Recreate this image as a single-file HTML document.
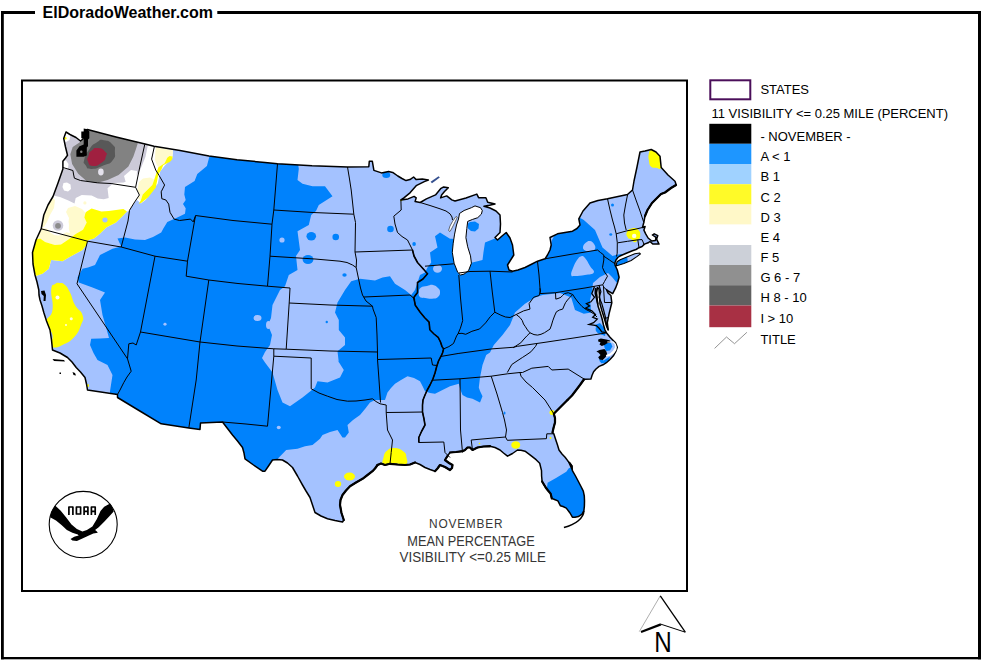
<!DOCTYPE html>
<html><head><meta charset="utf-8"><title>November Mean Percentage Visibility</title>
<style>html,body{margin:0;padding:0;background:#fff;}body{width:981px;height:660px;overflow:hidden;position:relative;font-family:"Liberation Sans",sans-serif;}svg{position:absolute;left:0;top:0;}text{font-family:"Liberation Sans",sans-serif;}</style></head><body>
<svg width="981" height="660" viewBox="0 0 981 660">
<rect width="981" height="660" fill="#fff"/>
<g fill="#000">
<rect x="1" y="11" width="34" height="3"/>
<rect x="217.3" y="11" width="763.7" height="3"/>
<rect x="1" y="11" width="2.8" height="648.3"/>
<rect x="978" y="11" width="3" height="648.3"/>
<rect x="1" y="657" width="980" height="2.3"/>
</g>
<text x="42.6" y="17.7" font-size="16" font-weight="bold" fill="#000">ElDoradoWeather.com</text>
<rect x="22" y="80.5" width="665" height="510.5" fill="#fff" stroke="#000" stroke-width="2"/>
<defs><clipPath id="us"><path d="M66.0,132.0 L70.0,134.5 L76.0,137.5 L80.5,141.0 L83.0,139.0 L84.0,133.0 L86.0,130.0 L87.4,129.5 L116.0,137.0 L145.0,144.0 L154.0,146.3 L180.0,150.6 L209.0,156.0 L237.0,159.7 L265.0,162.5 L277.5,163.8 L312.0,165.8 L347.5,167.0 L368.8,166.8 L369.3,161.2 L372.3,161.2 L373.9,170.4 L381.5,172.9 L388.6,171.4 L392.7,172.4 L397.8,176.0 L402.0,178.5 L406.0,180.6 L410.0,179.6 L413.6,177.0 L416.2,179.6 L422.3,179.1 L428.4,180.1 L424.3,181.6 L416.2,185.7 L410.0,192.8 L403.9,197.9 L400.9,199.9 L408.0,198.9 L414.1,196.4 L416.2,197.9 L415.1,201.5 L420.2,202.5 L426.4,198.9 L435.5,194.9 L440.6,188.7 L443.7,186.9 L448.3,187.7 L444.5,191.5 L441.6,194.9 L440.6,197.9 L446.7,195.9 L451.8,199.9 L455.0,201.0 L466.0,198.0 L476.8,194.1 L478.6,197.7 L485.9,197.7 L487.7,202.3 L495.0,204.1 L489.5,205.3 L484.0,206.3 L490.0,208.0 L496.0,211.0 L500.0,215.0 L500.5,224.0 L500.0,232.5 L495.0,237.5 L497.5,240.0 L502.0,236.0 L506.2,232.5 L510.0,238.0 L512.5,245.0 L513.8,255.0 L507.5,265.0 L509.0,270.0 L512.5,271.2 L518.0,270.0 L525.0,267.5 L531.0,264.5 L537.5,261.2 L545.0,258.8 L547.5,255.0 L550.0,250.0 L551.2,245.0 L550.0,237.5 L557.5,233.8 L565.0,232.5 L572.5,231.2 L577.0,228.5 L580.0,225.0 L578.8,218.8 L583.0,211.0 L590.0,203.0 L598.0,200.5 L607.5,198.8 L627.5,194.5 L632.5,190.0 L634.0,181.0 L637.0,167.0 L640.0,152.0 L645.0,151.0 L651.2,149.5 L656.0,152.0 L660.0,156.2 L661.2,167.5 L668.0,175.0 L675.0,181.2 L676.2,185.0 L671.0,188.0 L665.0,192.5 L661.0,194.0 L657.5,197.5 L652.0,203.0 L647.5,210.0 L645.0,216.0 L643.8,222.5 L642.5,227.5 L645.1,226.5 L643.9,230.1 L645.7,233.8 L648.1,238.0 L651.8,241.0 L655.4,240.4 L656.0,237.4 L652.4,235.0 L654.2,233.8 L657.8,235.6 L656.6,239.2 L659.0,244.1 L653.0,244.1 L649.9,241.5 L648.1,242.8 L644.5,244.1 L642.1,246.5 L639.0,247.7 L636.0,249.5 L632.4,250.7 L626.3,253.2 L620.0,256.0 L617.8,257.5 L616.0,260.0 L615.0,262.5 L615.0,265.0 L617.3,270.0 L619.1,277.3 L617.5,283.0 L615.5,288.2 L612.7,293.6 L609.0,291.5 L606.4,289.5 L608.0,293.0 L610.9,295.5 L611.8,302.7 L610.5,308.0 L609.1,313.6 L607.3,322.7 L608.2,330.0 L606.5,326.0 L604.5,319.0 L602.0,311.0 L600.0,304.0 L599.5,296.0 L599.0,289.0 L597.5,287.5 L596.5,293.0 L597.0,300.0 L598.0,306.0 L600.0,312.0 L602.0,318.5 L603.5,325.0 L605.0,330.0 L606.4,332.7 L610.0,337.3 L615.5,342.7 L617.3,347.3 L615.8,351.5 L613.6,355.5 L610.0,359.5 L606.4,362.7 L603.0,364.8 L599.1,366.4 L596.0,369.0 L593.6,371.8 L592.0,375.5 L590.9,379.1 L584.5,379.3 L580.0,385.0 L576.2,390.0 L572.0,395.5 L567.5,400.0 L560.0,407.5 L553.8,413.8 L555.0,418.0 L555.0,422.5 L553.5,428.0 L552.5,432.5 L553.8,433.8 L555.5,439.0 L557.5,445.0 L559.0,450.0 L562.0,454.0 L565.1,457.3 L568.8,462.1 L571.8,465.7 L572.4,470.6 L575.5,476.0 L578.4,481.5 L581.0,486.5 L583.3,491.2 L584.3,496.0 L584.5,500.9 L584.4,506.0 L583.9,510.6 L582.1,514.2 L578.4,516.6 L575.0,517.2 L572.4,517.2 L570.0,513.0 L566.3,508.1 L563.0,506.5 L560.3,505.7 L557.9,500.9 L554.5,499.5 L551.8,498.4 L550.6,493.6 L548.0,490.5 L545.7,487.5 L542.1,481.5 L541.6,476.0 L541.5,470.6 L539.7,463.3 L536.1,459.7 L530.0,454.8 L525.0,451.2 L521.0,450.2 L517.5,450.0 L512.5,453.5 L507.5,456.2 L503.5,453.0 L500.0,450.0 L495.0,447.5 L490.0,446.2 L483.5,446.5 L477.5,447.5 L472.5,450.0 L470.0,447.5 L467.5,447.5 L465.0,450.0 L462.5,451.2 L456.0,452.0 L450.0,452.5 L447.5,456.0 L445.0,460.0 L449.0,463.0 L452.5,465.0 L452.0,468.0 L450.0,470.0 L445.0,467.0 L440.0,465.0 L437.5,468.5 L435.0,471.2 L430.0,469.5 L425.0,467.5 L420.0,464.5 L415.0,462.5 L410.0,464.5 L405.0,465.0 L397.5,464.5 L390.0,463.8 L385.0,465.0 L381.0,463.5 L377.5,465.0 L375.0,468.5 L372.5,471.2 L367.5,475.0 L362.5,478.8 L356.0,482.5 L350.0,486.2 L346.0,490.5 L342.5,495.0 L340.5,500.0 L340.0,505.0 L341.5,513.0 L343.8,520.0 L342.5,522.0 L335.0,520.5 L327.5,518.8 L321.0,516.0 L315.0,512.5 L312.5,505.0 L310.0,497.5 L306.0,491.0 L302.5,485.0 L297.5,476.0 L292.5,467.5 L287.5,463.0 L282.5,460.0 L277.5,459.5 L272.5,460.0 L268.5,466.0 L265.0,471.2 L262.5,471.2 L253.5,465.0 L245.0,458.8 L244.0,453.0 L242.5,447.5 L237.5,441.0 L232.5,435.0 L227.5,428.5 L222.5,422.0 L200.5,423.0 L200.0,429.5 L188.8,428.0 L161.2,423.8 L139.0,410.5 L117.5,397.5 L117.5,394.5 L87.5,390.0 L86.5,384.0 L85.0,377.5 L80.5,372.0 L76.2,367.5 L72.0,362.0 L67.5,357.5 L60.0,353.0 L52.5,350.0 L51.5,340.0 L50.0,330.0 L46.5,321.0 L43.8,312.5 L42.0,306.0 L40.0,300.0 L39.0,295.0 L38.8,290.0 L37.0,282.0 L35.0,275.0 L33.0,264.0 L32.5,252.5 L36.0,240.0 L41.2,228.8 L43.8,215.0 L48.0,205.0 L53.0,196.5 L58.0,183.0 L62.9,169.0 L62.9,161.3 L65.5,158.0 L67.5,155.2 L65.5,147.0 L63.7,138.4Z M617.0,261.8 L620.2,259.8 L627.5,256.8 L634.8,253.8 L639.6,253.0 L640.4,254.0 L637.2,256.4 L631.2,260.4 L623.9,263.5 L616.0,266.0Z"/></clipPath></defs>
<g clip-path="url(#us)">
<rect x="20" y="100" width="680" height="450" fill="#a4c2ff"/>
<path d="M210.5,150.0 L209.6,155.7 L206.9,165.9 L197.3,174.1 L194.6,180.9 L185.0,187.1 L184.3,194.6 L185.7,200.0 L183.0,204.1 L185.7,208.2 L185.0,213.7 L176.8,217.8 L167.3,221.9 L163.2,228.7 L161.2,232.5 L153.0,237.0 L145.0,240.0 L135.0,239.5 L125.0,237.5 L117.5,238.5 L121.2,246.5 L112.5,248.8 L100.0,255.0 L95.0,265.0 L88.0,267.5 L82.5,268.8 L77.5,277.5 L78.8,282.5 L92.5,287.5 L105.0,292.5 L100.0,300.0 L102.5,315.0 L107.5,332.5 L109.0,338.0 L100.0,338.5 L91.2,338.8 L90.0,345.0 L93.5,353.0 L97.5,360.0 L107.5,365.0 L112.5,375.0 L110.0,391.2 L110.0,400.0 L160.0,430.0 L200.0,435.0 L222.0,425.0 L240.0,455.0 L262.0,475.0 L283.8,452.5 L286.2,450.0 L297.5,448.8 L305.0,446.2 L312.5,445.0 L320.0,438.8 L322.5,435.0 L330.0,432.0 L337.5,430.0 L342.5,437.5 L345.0,437.5 L348.8,432.5 L347.5,425.0 L353.0,420.0 L360.0,415.0 L365.0,409.0 L370.0,402.5 L375.0,400.0 L385.0,400.0 L387.5,392.5 L391.0,388.0 L395.0,383.8 L401.0,380.0 L407.5,376.2 L414.0,378.0 L420.0,381.2 L422.5,386.0 L425.0,391.2 L430.0,393.0 L435.0,393.8 L442.5,390.0 L450.0,386.2 L458.8,383.8 L460.5,390.0 L462.5,395.0 L467.0,397.5 L472.5,398.8 L480.0,402.5 L482.5,396.2 L480.0,391.0 L478.8,387.5 L480.0,377.5 L482.5,365.0 L486.2,355.0 L490.0,352.5 L493.8,345.0 L502.5,335.0 L510.0,325.0 L515.0,312.5 L525.0,303.8 L535.0,297.5 L542.5,295.0 L560.0,293.0 L571.2,297.5 L575.0,310.0 L583.8,313.8 L591.2,312.5 L590.0,300.0 L592.0,292.0 L593.0,283.0 L600.0,277.0 L608.0,273.0 L612.0,277.0 L617.0,283.0 L622.0,280.0 L620.0,268.0 L628.0,263.0 L627.0,256.0 L621.0,254.0 L616.0,255.0 L612.5,256.0 L602.5,247.5 L595.0,230.0 L583.8,220.0 L575.0,215.0 L560.0,225.0 L552.0,240.0 L548.0,255.0 L530.0,262.0 L512.0,268.0 L520.0,250.0 L515.0,228.0 L497.5,237.5 L485.0,242.5 L483.5,252.0 L482.5,260.0 L472.5,262.5 L466.0,262.0 L462.0,250.0 L460.0,240.0 L452.0,238.8 L450.0,238.8 L440.0,232.5 L435.0,236.2 L437.5,247.5 L430.0,252.5 L431.2,262.5 L427.5,267.5 L425.0,272.5 L420.0,275.0 L417.5,282.5 L415.0,290.0 L411.2,295.0 L405.0,290.0 L395.0,283.8 L390.0,276.2 L382.5,277.5 L375.0,280.5 L360.0,278.8 L351.2,281.2 L345.0,290.0 L337.5,302.5 L335.0,312.5 L338.8,320.0 L338.8,330.0 L345.0,337.5 L345.0,345.0 L337.5,351.2 L338.8,362.5 L337.5,360.0 L343.8,370.0 L340.0,377.5 L327.5,382.5 L317.5,381.2 L315.0,387.5 L302.5,397.5 L290.0,406.2 L282.5,402.5 L277.5,390.0 L272.5,372.5 L265.0,362.5 L262.0,358.0 L265.0,352.0 L270.0,345.0 L272.0,335.0 L268.0,325.0 L271.0,318.0 L272.5,305.0 L280.0,290.0 L285.0,286.2 L288.8,275.0 L297.5,270.0 L296.0,256.0 L300.0,250.0 L297.5,231.2 L308.8,225.0 L311.2,215.0 L316.0,211.0 L318.8,205.0 L332.5,196.2 L325.0,186.2 L312.5,186.2 L302.5,183.8 L297.5,180.0 L298.8,168.8 L297.5,160.0Z" fill="#0082fc"/>
<path d="M547.6,482.7 L556.0,478.0 L566.3,471.8 L568.8,468.2 L575.0,466.0 L590.0,480.0 L590.0,520.0 L565.0,522.0 L546.0,495.0Z" fill="#0082fc"/>
<path d="M467.5,224.0 L470.0,222.0 L475.0,221.5 L479.0,224.0 L478.5,228.5 L475.0,231.5 L471.0,231.0 L468.0,228.5Z" fill="#0082fc"/>
<path d="M595.0,325.0 L600.0,323.0 L606.0,330.0 L605.0,336.0 L598.0,333.0Z" fill="#0082fc"/>
<path d="M603.6,343.2 L610.9,342.7 L612.3,346.4 L610.0,350.5 L605.9,350.9 L604.5,347.3Z" fill="#0082fc"/>
<path d="M599.5,358.2 L603.6,360.5 L610.0,356.4 L609.1,360.0 L605.9,362.7 L601.4,363.2 L599.5,360.9Z" fill="#0082fc"/>
<path d="M595.5,328.2 L599.5,327.3 L603.6,329.1 L605.5,332.7 L602.7,334.5 L598.2,333.6 L595.9,330.9Z" fill="#0082fc"/>
<ellipse cx="311.25" cy="236.25" rx="4.8" ry="4.2" fill="#0082fc"/>
<ellipse cx="335.75" cy="237" rx="3.3" ry="3.3" fill="#0082fc"/>
<ellipse cx="308" cy="259.5" rx="5.4" ry="4.6" fill="#0082fc"/>
<ellipse cx="386.25" cy="175" rx="4" ry="3" fill="#0082fc"/>
<ellipse cx="390.5" cy="229" rx="3.3" ry="3.3" fill="#0082fc"/>
<ellipse cx="344.5" cy="275" rx="2.2" ry="1.8" fill="#0082fc"/>
<ellipse cx="326.75" cy="322" rx="1.2" ry="1.2" fill="#0082fc"/>
<ellipse cx="612.5" cy="205" rx="1.5" ry="1.5" fill="#0082fc"/>
<ellipse cx="610.75" cy="234.5" rx="1.5" ry="1.2" fill="#0082fc"/>
<ellipse cx="414.1" cy="244.1" rx="1.8" ry="2" fill="#0082fc"/>
<ellipse cx="504.5" cy="413" rx="1" ry="1.5" fill="#0082fc"/>
<path d="M418.8,292.0 C419.0,289.8 419.1,288.9 421.0,287.5 C422.9,286.1 424.2,286.6 427.0,286.0 C429.8,285.4 430.4,284.5 433.0,285.0 C435.6,285.5 436.4,286.4 438.0,288.0 C439.6,289.6 440.0,289.9 440.0,292.0 C440.0,294.1 439.9,295.4 438.0,297.0 C436.1,298.6 435.0,298.5 432.0,298.8 C429.0,299.0 427.8,298.4 425.0,298.0 C422.2,297.6 421.5,298.4 420.0,297.0 C418.5,295.6 418.5,294.2 418.8,292.0Z" fill="#a4c2ff"/>
<path d="M583.0,247.0 C583.2,245.1 584.4,243.9 586.0,242.5 C587.6,241.1 588.1,240.7 590.0,241.0 C591.9,241.3 592.8,242.1 594.0,244.0 C595.2,245.9 595.9,247.4 595.0,249.0 C594.1,250.6 592.3,250.7 590.0,251.0 C587.7,251.3 586.6,251.4 585.0,250.5 C583.4,249.6 582.8,248.9 583.0,247.0Z" fill="#a4c2ff"/>
<path d="M581.2,256.2 C583.1,255.8 583.0,255.7 585.0,258.0 C587.0,260.3 588.0,262.6 590.0,266.0 C592.0,269.4 594.9,270.4 593.8,272.5 C592.6,274.6 589.4,274.2 585.0,275.0 C580.6,275.8 578.2,276.0 575.0,276.0 C571.8,276.0 571.7,276.9 571.2,275.0 C570.8,273.1 571.7,271.5 573.0,268.0 C574.3,264.5 575.1,262.7 577.0,260.0 C578.9,257.3 579.4,256.7 581.2,256.2Z" fill="#a4c2ff"/>
<ellipse cx="282" cy="240" rx="2.6" ry="2.6" fill="#a4c2ff"/>
<ellipse cx="437.5" cy="268.75" rx="4.5" ry="4" fill="#a4c2ff"/>
<ellipse cx="165" cy="324.25" rx="1.6" ry="1.4" fill="#a4c2ff"/>
<ellipse cx="257.5" cy="318" rx="4" ry="3" fill="#a4c2ff"/>
<ellipse cx="278.75" cy="427.5" rx="2" ry="1.7" fill="#a4c2ff"/>
<ellipse cx="268.5" cy="325" rx="2.5" ry="4" fill="#a4c2ff"/>
<path d="M60.0,125.0 L173.0,150.0 L172.4,157.9 L165.1,165.3 L160.2,171.4 L157.8,183.6 L151.6,192.2 L145.5,200.0 L141.0,203.5 L137.0,200.0 L133.0,205.0 L128.3,211.5 L127.0,211.5 L122.2,216.4 L116.0,222.5 L106.3,227.4 L100.2,233.5 L94.0,238.4 L88.0,240.2 L86.7,244.5 L82.5,250.0 L68.8,257.5 L62.5,261.2 L51.2,260.0 L48.8,268.8 L42.5,273.8 L35.0,276.2 L25.0,262.0 L30.0,240.0 L38.0,215.0 L50.0,190.0 L58.0,170.0 L58.0,140.0Z" fill="#ffffff"/>
<path d="M66.0,125.0 L148.0,140.0 L148.0,144.5 L145.5,156.7 L140.6,168.9 L134.5,178.7 L123.5,182.4 L113.7,183.0 L107.5,188.2 L108.7,198.0 L103.8,199.2 L97.7,198.6 L91.6,195.6 L81.8,195.0 L75.7,198.0 L74.5,203.5 L68.4,200.5 L60.0,197.0 L53.0,195.6 L50.0,190.0 L60.0,165.0 L60.0,140.0Z" fill="#cccad8"/>
<path d="M63.0,130.0 L70.5,134.5 L69.5,140.0 L66.0,142.0 L63.0,141.0Z" fill="#ffffff"/>
<path d="M62.0,160.0 L66.0,160.5 L68.5,164.0 L68.0,169.0 L62.0,169.0Z" fill="#ffffff"/>
<path d="M63.5,183.0 L67.0,182.5 L70.5,184.5 L71.0,189.0 L68.0,191.5 L64.0,190.5 L62.5,187.0Z" fill="#ffffff"/>
<path d="M124.0,176.0 L131.0,170.0 L137.0,171.0 L136.0,184.0 L126.0,183.0Z" fill="#ffffff"/>
<path d="M156.0,147.0 L173.0,150.5 L172.5,156.0 L168.0,157.5 L164.6,163.2 L158.4,167.3 L156.8,165.0 L155.0,160.0 L155.3,152.0Z" fill="#fffacd"/>
<path d="M137.3,190.0 L139.0,182.0 L143.0,178.5 L150.0,177.5 L154.3,179.6 L152.3,185.0 L142.7,194.6 L140.7,200.7 L138.0,198.0 L139.9,195.0Z" fill="#fffacd"/>
<path d="M52.0,197.0 L55.0,200.0 L54.0,208.0 L50.0,215.0 L47.0,222.0 L44.0,227.0 L40.0,227.0 L42.0,211.5Z" fill="#fffacd"/>
<path d="M68.0,208.0 L75.0,206.0 L82.0,209.0 L85.5,212.7 L84.3,217.6 L86.7,222.5 L83.0,229.8 L75.7,234.1 L70.0,233.0 L68.0,226.0 L69.0,218.0 L66.0,212.0Z" fill="#fffacd"/>
<path d="M40.2,227.4 L75.7,234.1 L68.4,239.6 L61.0,244.5 L54.9,245.1 L45.1,242.0 L40.2,238.4 L36.0,237.0Z" fill="#fffacd"/>
<path d="M85.5,212.7 L84.3,217.6 L86.7,222.5 L83.0,229.8 L75.7,234.1 L68.4,239.6 L61.0,244.5 L54.9,245.1 L45.1,242.0 L40.2,238.4 L30.0,240.0 L25.0,262.0 L35.0,276.2 L42.5,273.8 L48.8,268.8 L51.2,260.0 L62.5,261.2 L68.8,257.5 L82.5,250.0 L86.7,244.5 L88.0,240.2 L94.0,238.4 L100.2,233.5 L106.3,227.4 L116.0,222.5 L122.2,216.4 L127.0,211.5 L123.4,209.0 L108.7,210.9 L101.4,211.5 L91.6,208.4 L86.7,211.5Z" fill="#ffff00"/>
<path d="M172.7,156.6 L172.1,159.5 L170.0,161.8 L163.2,165.2 L161.2,170.0 L158.4,174.1 L157.1,180.9 L155.7,187.7 L148.2,197.3 L141.4,202.8 L138.6,204.1 L140.7,200.7 L142.7,194.6 L152.3,185.0 L154.3,179.6 L156.4,172.7 L158.4,167.3 L164.6,163.2 L167.3,157.7 L169.5,156.0Z" fill="#ffff00"/>
<path d="M87.4,127.0 L138.2,140.0 L138.2,142.0 L136.3,148.1 L133.3,156.7 L128.4,166.5 L118.6,175.0 L107.6,179.9 L96.6,183.0 L86.8,181.2 L78.2,173.8 L72.1,164.0 L70.3,154.3 L72.7,146.9 L79.5,142.6 L83.0,138.0Z" fill="#828282"/>
<path d="M103.9,140.2 C109.2,140.8 108.8,140.6 112.5,144.5 C116.2,148.4 114.9,146.5 114.9,151.8 C114.9,157.1 116.2,155.9 112.5,160.4 C108.8,164.9 110.8,162.5 103.9,165.3 C97.0,168.1 97.8,168.9 91.7,168.9 C85.6,168.9 88.0,168.6 85.6,165.3 C83.2,162.0 83.2,164.4 84.4,159.1 C85.6,153.8 85.2,154.9 89.3,149.4 C93.4,143.9 91.7,145.7 96.6,142.6 C101.5,139.5 98.6,139.6 103.9,140.2Z" fill="#585858"/>
<path d="M97.8,148.1 C102.3,148.5 102.5,148.9 105.2,151.8 C107.9,154.7 107.0,153.0 105.8,156.7 C104.6,160.4 105.8,159.7 101.5,162.8 C97.2,165.9 97.4,166.3 92.9,165.9 C88.4,165.5 89.4,165.1 88.0,161.6 C86.6,158.1 87.4,159.2 88.6,155.5 C89.8,151.8 88.6,153.1 91.7,150.6 C94.8,148.1 93.3,147.7 97.8,148.1Z" fill="#a02040"/>
<ellipse cx="100.9" cy="172" rx="2.8" ry="3.4" fill="#e4e2ec"/>
<ellipse cx="105" cy="220" rx="2.6" ry="2.4" fill="#a4c2ff"/>
<ellipse cx="58" cy="225.5" rx="11" ry="10" fill="#ffffff"/>
<ellipse cx="58" cy="225.5" rx="5.3" ry="5.3" fill="#cccad8"/>
<ellipse cx="58" cy="225.8" rx="2.9" ry="2.9" fill="#8c8c8c"/>
<ellipse cx="84.9" cy="202.9" rx="1.6" ry="1.6" fill="#fffacd"/>
<ellipse cx="65.4" cy="138.3" rx="1.1" ry="1.3" fill="#ffff00"/>
<path d="M60.0,283.0 C62.7,283.3 62.3,282.5 65.0,285.0 C67.7,287.5 67.3,287.2 70.0,292.5 C72.7,297.8 71.7,299.0 75.0,305.0 C78.3,311.0 80.9,309.7 82.5,315.0 C84.1,320.3 83.3,319.0 81.0,325.0 C78.7,331.0 78.7,332.2 73.8,337.5 C68.8,342.8 67.8,342.3 62.5,345.0 C57.2,347.7 57.1,347.5 53.8,347.5 C50.4,347.5 50.3,348.3 50.0,345.0 C49.7,341.7 53.5,341.0 52.5,335.0 C51.5,329.0 46.2,329.2 46.2,322.5 C46.2,315.8 51.2,318.7 52.5,310.0 C53.8,301.3 50.6,296.9 51.2,290.0 C51.9,283.1 52.7,285.9 55.0,284.0 C57.3,282.1 57.3,282.7 60.0,283.0Z" fill="#ffff00"/>
<path d="M383.5,457.5 C384.3,453.8 384.4,453.1 387.3,450.6 C390.2,448.1 389.9,447.8 394.2,448.0 C398.5,448.2 400.1,448.9 403.4,451.4 C406.7,453.9 405.9,454.0 406.5,457.5 C407.1,461.0 408.6,462.8 405.7,464.4 C402.8,466.0 401.4,463.5 395.7,463.5 C390.0,463.5 387.6,466.0 384.3,464.4 C381.0,462.8 382.7,461.2 383.5,457.5Z" fill="#ffff00"/>
<path d="M651.2,150.0 C653.2,149.5 653.7,150.3 656.0,152.0 C658.3,153.7 658.7,152.1 660.0,156.2 C661.3,160.4 662.1,164.4 661.0,167.5 C659.9,170.6 658.7,168.1 656.0,167.8 C653.3,167.5 652.9,168.3 651.0,166.5 C649.1,164.7 649.6,164.3 649.0,161.0 C648.4,157.7 648.1,156.9 648.8,154.0 C649.4,151.1 649.3,150.5 651.2,150.0Z" fill="#ffff00"/>
<path d="M626.9,231.9 C628.1,229.5 629.3,228.8 632.4,228.3 C635.5,227.8 636.3,228.0 638.4,230.1 C640.5,232.2 640.4,233.6 640.2,236.2 C640.0,238.8 639.2,238.2 637.8,239.8 C636.4,241.4 636.6,242.4 634.8,242.2 C633.0,242.0 633.1,240.5 631.2,239.2 C629.3,237.9 628.9,239.3 627.8,237.4 C626.7,235.5 625.7,234.3 626.9,231.9Z" fill="#ffff00"/>
<ellipse cx="349.5" cy="476.5" rx="5.5" ry="4" fill="#ffff00"/>
<ellipse cx="338" cy="484" rx="3.2" ry="3" fill="#ffff00"/>
<ellipse cx="552" cy="412.5" rx="2.5" ry="2.5" fill="#ffff00"/>
<ellipse cx="515.75" cy="445" rx="4.5" ry="3.8" fill="#ffff00"/>
<ellipse cx="550.5" cy="438" rx="1" ry="1" fill="#ffff00"/>
<ellipse cx="88" cy="385.5" rx="1" ry="1.5" fill="#ffff00"/>
<ellipse cx="479.5" cy="443.5" rx="0.8" ry="0.8" fill="#ffff00"/>
<ellipse cx="401.3" cy="200.2" rx="1.1" ry="1.1" fill="#ffff00"/>
<circle cx="57.5" cy="297.5" r="2" fill="#fffde8"/>
<circle cx="71.25" cy="318.75" r="1.5" fill="#fffde8"/>
<circle cx="66" cy="325" r="1" fill="#fffde8"/>
<circle cx="634.2" cy="235.9" r="2.2" fill="#fffde8"/>
</g>
<path d="M475.0,205.9 L471.4,207.7 L464.1,210.5 L459.5,213.5 L458.5,219.0 L456.5,225.0 L454.6,234.1 L453.2,243.2 L452.3,252.3 L454.1,263.2 L457.7,272.3 L460.5,275.0 L464.1,274.1 L468.6,270.5 L471.4,263.2 L470.5,255.9 L467.7,246.8 L465.9,237.7 L466.8,228.6 L467.7,221.4 L472.3,219.5 L477.7,217.7 L481.4,214.1 L482.3,210.5 L480.5,207.7Z" fill="#fff" stroke="#000" stroke-width="1"/>
<path d="M448.6,230.5 L450.0,226.0 L452.5,221.5 L456.0,216.5 L457.3,217.3 L454.5,223.0 L452.0,228.0 L450.0,231.5Z" fill="#fff" stroke="#333" stroke-width="0.7"/>
<path d="M66.0,132.0 L70.0,134.5 L76.0,137.5 L80.5,141.0 L83.0,139.0 L84.0,133.0 L86.0,130.0 L87.4,129.5 L116.0,137.0 L145.0,144.0 L154.0,146.3 L180.0,150.6 L209.0,156.0 L237.0,159.7 L265.0,162.5 L277.5,163.8 L312.0,165.8 L347.5,167.0 L368.8,166.8 L369.3,161.2 L372.3,161.2 L373.9,170.4 L381.5,172.9 L388.6,171.4 L392.7,172.4 L397.8,176.0 L402.0,178.5 L406.0,180.6 L410.0,179.6 L413.6,177.0 L416.2,179.6 L422.3,179.1 L428.4,180.1 L424.3,181.6 L416.2,185.7 L410.0,192.8 L403.9,197.9 L400.9,199.9 L408.0,198.9 L414.1,196.4 L416.2,197.9 L415.1,201.5 L420.2,202.5 L426.4,198.9 L435.5,194.9 L440.6,188.7 L443.7,186.9 L448.3,187.7 L444.5,191.5 L441.6,194.9 L440.6,197.9 L446.7,195.9 L451.8,199.9 L455.0,201.0 L466.0,198.0 L476.8,194.1 L478.6,197.7 L485.9,197.7 L487.7,202.3 L495.0,204.1 L489.5,205.3 L484.0,206.3 L490.0,208.0 L496.0,211.0 L500.0,215.0 L500.5,224.0 L500.0,232.5 L495.0,237.5 L497.5,240.0 L502.0,236.0 L506.2,232.5 L510.0,238.0 L512.5,245.0 L513.8,255.0 L507.5,265.0 L509.0,270.0 L512.5,271.2 L518.0,270.0 L525.0,267.5 L531.0,264.5 L537.5,261.2 L545.0,258.8 L547.5,255.0 L550.0,250.0 L551.2,245.0 L550.0,237.5 L557.5,233.8 L565.0,232.5 L572.5,231.2 L577.0,228.5 L580.0,225.0 L578.8,218.8 L583.0,211.0 L590.0,203.0 L598.0,200.5 L607.5,198.8 L627.5,194.5 L632.5,190.0 L634.0,181.0 L637.0,167.0 L640.0,152.0 L645.0,151.0 L651.2,149.5 L656.0,152.0 L660.0,156.2 L661.2,167.5 L668.0,175.0 L675.0,181.2 L676.2,185.0 L671.0,188.0 L665.0,192.5 L661.0,194.0 L657.5,197.5 L652.0,203.0 L647.5,210.0 L645.0,216.0 L643.8,222.5 L642.5,227.5 L645.1,226.5 L643.9,230.1 L645.7,233.8 L648.1,238.0 L651.8,241.0 L655.4,240.4 L656.0,237.4 L652.4,235.0 L654.2,233.8 L657.8,235.6 L656.6,239.2 L659.0,244.1 L653.0,244.1 L649.9,241.5 L648.1,242.8 L644.5,244.1 L642.1,246.5 L639.0,247.7 L636.0,249.5 L632.4,250.7 L626.3,253.2 L620.0,256.0 L617.8,257.5 L616.0,260.0 L615.0,262.5 L615.0,265.0 L617.3,270.0 L619.1,277.3 L617.5,283.0 L615.5,288.2 L612.7,293.6 L609.0,291.5 L606.4,289.5 L608.0,293.0 L610.9,295.5 L611.8,302.7 L610.5,308.0 L609.1,313.6 L607.3,322.7 L608.2,330.0 L606.5,326.0 L604.5,319.0 L602.0,311.0 L600.0,304.0 L599.5,296.0 L599.0,289.0 L597.5,287.5 L596.5,293.0 L597.0,300.0 L598.0,306.0 L600.0,312.0 L602.0,318.5 L603.5,325.0 L605.0,330.0 L606.4,332.7 L610.0,337.3 L615.5,342.7 L617.3,347.3 L615.8,351.5 L613.6,355.5 L610.0,359.5 L606.4,362.7 L603.0,364.8 L599.1,366.4 L596.0,369.0 L593.6,371.8 L592.0,375.5 L590.9,379.1 L584.5,379.3 L580.0,385.0 L576.2,390.0 L572.0,395.5 L567.5,400.0 L560.0,407.5 L553.8,413.8 L555.0,418.0 L555.0,422.5 L553.5,428.0 L552.5,432.5 L553.8,433.8 L555.5,439.0 L557.5,445.0 L559.0,450.0 L562.0,454.0 L565.1,457.3 L568.8,462.1 L571.8,465.7 L572.4,470.6 L575.5,476.0 L578.4,481.5 L581.0,486.5 L583.3,491.2 L584.3,496.0 L584.5,500.9 L584.4,506.0 L583.9,510.6 L582.1,514.2 L578.4,516.6 L575.0,517.2 L572.4,517.2 L570.0,513.0 L566.3,508.1 L563.0,506.5 L560.3,505.7 L557.9,500.9 L554.5,499.5 L551.8,498.4 L550.6,493.6 L548.0,490.5 L545.7,487.5 L542.1,481.5 L541.6,476.0 L541.5,470.6 L539.7,463.3 L536.1,459.7 L530.0,454.8 L525.0,451.2 L521.0,450.2 L517.5,450.0 L512.5,453.5 L507.5,456.2 L503.5,453.0 L500.0,450.0 L495.0,447.5 L490.0,446.2 L483.5,446.5 L477.5,447.5 L472.5,450.0 L470.0,447.5 L467.5,447.5 L465.0,450.0 L462.5,451.2 L456.0,452.0 L450.0,452.5 L447.5,456.0 L445.0,460.0 L449.0,463.0 L452.5,465.0 L452.0,468.0 L450.0,470.0 L445.0,467.0 L440.0,465.0 L437.5,468.5 L435.0,471.2 L430.0,469.5 L425.0,467.5 L420.0,464.5 L415.0,462.5 L410.0,464.5 L405.0,465.0 L397.5,464.5 L390.0,463.8 L385.0,465.0 L381.0,463.5 L377.5,465.0 L375.0,468.5 L372.5,471.2 L367.5,475.0 L362.5,478.8 L356.0,482.5 L350.0,486.2 L346.0,490.5 L342.5,495.0 L340.5,500.0 L340.0,505.0 L341.5,513.0 L343.8,520.0 L342.5,522.0 L335.0,520.5 L327.5,518.8 L321.0,516.0 L315.0,512.5 L312.5,505.0 L310.0,497.5 L306.0,491.0 L302.5,485.0 L297.5,476.0 L292.5,467.5 L287.5,463.0 L282.5,460.0 L277.5,459.5 L272.5,460.0 L268.5,466.0 L265.0,471.2 L262.5,471.2 L253.5,465.0 L245.0,458.8 L244.0,453.0 L242.5,447.5 L237.5,441.0 L232.5,435.0 L227.5,428.5 L222.5,422.0 L200.5,423.0 L200.0,429.5 L188.8,428.0 L161.2,423.8 L139.0,410.5 L117.5,397.5 L117.5,394.5 L87.5,390.0 L86.5,384.0 L85.0,377.5 L80.5,372.0 L76.2,367.5 L72.0,362.0 L67.5,357.5 L60.0,353.0 L52.5,350.0 L51.5,340.0 L50.0,330.0 L46.5,321.0 L43.8,312.5 L42.0,306.0 L40.0,300.0 L39.0,295.0 L38.8,290.0 L37.0,282.0 L35.0,275.0 L33.0,264.0 L32.5,252.5 L36.0,240.0 L41.2,228.8 L43.8,215.0 L48.0,205.0 L53.0,196.5 L58.0,183.0 L62.9,169.0 L62.9,161.3 L65.5,158.0 L67.5,155.2 L65.5,147.0 L63.7,138.4Z" fill="none" stroke="#000" stroke-width="1.5" stroke-linejoin="round"/>
<path d="M617.0,261.8 L620.2,259.8 L627.5,256.8 L634.8,253.8 L639.6,253.0 L640.4,254.0 L637.2,256.4 L631.2,260.4 L623.9,263.5 L616.0,266.0Z" fill="none" stroke="#000" stroke-width="1.1"/>
<g fill="none" stroke="#000" stroke-width="1" stroke-linejoin="round">
<path d="M144.8,144.2 L140.0,166.0 L135.6,187.3"/>
<path d="M62.9,167.5 L68.0,169.0 L72.9,170.5 L73.7,175.0 L74.4,178.2 L80.5,180.5 L97.3,182.8 L111.1,183.5 L135.6,187.3"/>
<path d="M135.6,187.3 L139.4,195.0 L134.0,203.0 L129.5,210.3 L128.0,221.0 L121.2,247.0"/>
<path d="M154.3,146.8 L151.6,159.1 L155.7,170.0 L159.1,175.5 L164.6,185.0 L161.2,191.8 L161.8,198.7 L165.9,200.0 L168.7,204.1 L170.0,212.3 L174.1,219.1 L179.6,220.5 L190.5,219.1 L193.2,221.9 L195.3,216.4"/>
<path d="M41.2,228.8 L87.5,241.2 L121.2,247.0 L155.0,256.2 L187.5,261.2"/>
<path d="M195.5,215.5 L187.5,261.2 L186.2,276.2"/>
<path d="M195.5,215.5 L233.0,220.5 L272.0,224.2"/>
<path d="M277.5,163.8 L273.8,210.0 L272.0,224.2 L270.0,256.2 L267.5,286.2"/>
<path d="M186.2,276.2 L208.8,280.0 L238.0,283.5 L267.5,286.2"/>
<path d="M87.5,241.2 L77.0,283.8 L127.5,358.8"/>
<path d="M155.0,256.2 L140.5,332.0 L136.2,345.0 L133.0,343.0 L128.8,343.8 L127.5,358.8"/>
<path d="M127.5,358.8 L131.2,371.2 L127.0,377.0 L123.8,382.5 L120.0,390.0 L117.5,394.5"/>
<path d="M140.5,332.0 L200.0,342.0 L237.0,346.0 L273.8,348.8 L286.2,349.2 L330.0,351.0 L377.5,352.0"/>
<path d="M208.8,280.0 L200.0,342.0"/>
<path d="M200.0,342.0 L196.2,380.0 L188.8,428.0"/>
<path d="M222.5,422.0 L246.0,424.0 L267.5,426.2"/>
<path d="M273.8,348.8 L273.8,356.2 L267.5,426.2"/>
<path d="M273.8,356.2 L311.2,358.0 L311.2,388.8"/>
<path d="M311.2,388.8 L319.0,393.0 L327.5,396.2 L337.0,399.5 L347.5,401.2 L356.0,401.0 L365.0,400.0 L372.5,398.8 L376.0,401.5 L380.0,403.8 L386.2,405.0"/>
<path d="M289.2,303.0 L286.2,349.2"/>
<path d="M267.5,286.2 L290.0,288.0 L289.2,303.0"/>
<path d="M289.2,303.0 L330.0,305.0 L372.5,306.2"/>
<path d="M273.8,210.0 L313.0,212.5 L353.8,214.2"/>
<path d="M347.5,167.0 L349.5,179.0 L351.2,190.0 L352.5,202.0 L353.8,214.2"/>
<path d="M353.8,214.2 L355.5,222.5 L355.0,252.0"/>
<path d="M355.0,252.0 L384.0,251.0 L412.5,250.0"/>
<path d="M270.0,256.2 L315.0,259.0 L340.0,261.2 L347.0,262.5 L352.5,265.0 L356.2,267.5"/>
<path d="M355.0,252.0 L356.5,260.0 L356.2,267.5"/>
<path d="M356.2,267.5 L358.8,280.0 L360.5,288.0 L362.5,295.0 L366.0,301.0 L372.5,306.2"/>
<path d="M372.5,306.2 L373.0,309.0 L376.2,317.5 L377.0,335.0 L377.5,352.0 L377.5,359.5"/>
<path d="M377.5,359.5 L379.0,380.0 L380.5,402.5"/>
<path d="M363.8,297.0 L387.0,296.0 L410.0,295.0 L413.0,297.5 L415.0,300.0"/>
<path d="M377.5,359.5 L404.0,358.8 L431.2,358.0 L432.5,365.0 L437.0,365.5"/>
<path d="M386.2,405.0 L386.2,412.5 L404.0,412.3 L422.5,412.0"/>
<path d="M386.2,412.5 L387.5,430.0 L390.0,435.0 L392.5,440.0 L391.2,452.5 L390.0,463.8"/>
<path d="M400.9,199.9 L401.2,210.0 L397.0,213.5 L393.8,216.2 L395.0,224.0 L397.5,232.5 L402.0,236.5 L407.5,240.0 L410.0,245.0 L412.5,250.0"/>
<path d="M412.5,250.0 L414.0,256.0 L417.5,262.5 L422.0,267.5 L427.5,273.8 L423.0,279.0 L417.5,282.5 L417.5,292.5 L413.8,297.5 L415.3,305.3 L420.0,312.0 L424.5,317.5 L429.1,322.1 L429.5,326.0 L429.8,329.8 L434.0,334.0 L438.2,337.4 L440.5,342.0 L442.0,346.6 L443.6,348.9"/>
<path d="M443.6,348.9 L442.5,353.0 L441.3,355.7 L438.5,361.0 L436.7,366.5 L435.0,373.0 L432.9,379.0 L430.0,385.0 L427.0,390.5 L425.0,395.0 L423.0,400.0 L422.5,405.0 L422.5,412.0 L424.0,419.0 L425.0,425.0 L421.5,431.5 L418.8,437.5 L418.8,442.5"/>
<path d="M418.8,442.5 L443.8,442.0 L445.0,452.5 L450.0,457.5"/>
<path d="M425.0,266.2 L453.8,263.8"/>
<path d="M420.2,202.5 L430.0,205.5 L440.0,208.8 L446.0,211.0 L450.0,213.8 L452.0,217.0 L452.5,220.0"/>
<path d="M458.8,275.0 L460.5,298.0 L462.7,320.6 L460.4,328.2 L458.1,333.6"/>
<path d="M458.1,333.6 L456.6,335.9 L453.5,343.5 L448.9,346.6 L443.6,348.9"/>
<path d="M458.1,333.6 L462.0,333.3 L465.7,334.3 L471.9,331.3 L479.5,329.0 L485.6,322.9 L490.2,316.8 L494.8,312.2"/>
<path d="M458.8,273.0 L470.0,271.5 L490.0,271.2 L512.5,272.0"/>
<path d="M490.0,271.2 L492.3,292.0 L494.8,312.2"/>
<path d="M494.8,312.2 L500.9,315.2 L505.5,317.0 L510.1,317.5 L516.2,314.5 L523.6,310.9 L530.0,309.1 L529.1,303.6 L533.6,297.3 L539.1,295.5 L540.5,291.0 L540.0,288.2"/>
<path d="M537.5,261.5 L539.0,275.0 L540.0,288.2"/>
<path d="M540.0,288.2 L540.0,293.6 L555.5,292.7 L570.0,290.3 L585.0,288.0 L602.7,284.8"/>
<path d="M440.5,356.5 L458.1,353.5 L491.7,348.9 L513.1,347.3 L517.5,346.3"/>
<path d="M517.5,346.3 L545.0,342.3 L575.0,337.8 L606.4,332.9"/>
<path d="M513.1,347.8 L520.8,342.8 L524.0,339.0 L526.9,335.9 L530.0,332.8"/>
<path d="M516.2,314.5 L520.0,317.5 L522.3,320.6 L523.5,324.0 L525.4,326.7 L527.5,330.0 L530.0,332.8"/>
<path d="M530.0,332.8 L534.0,334.6 L537.6,335.1 L541.0,334.3 L544.5,332.7 L550.0,329.1 L551.5,325.0 L552.7,320.9 L554.5,316.0 L556.4,311.8 L559.5,310.0 L562.7,309.1 L564.0,306.0 L565.5,302.7 L567.5,300.0 L570.0,297.3 L572.7,294.5"/>
<path d="M555.5,292.7 L555.8,299.1 L558.0,298.5 L560.9,297.3 L562.5,295.5 L564.5,293.6 L568.2,292.7 L572.7,294.5"/>
<path d="M572.7,294.5 L575.0,298.0 L578.0,302.0 L582.0,306.5 L586.0,309.5 L590.0,311.5 L594.0,314.0 L597.0,317.0"/>
<path d="M603.5,287.0 L604.0,295.0 L604.5,302.5 L611.5,302.5"/>
<path d="M604.5,318.5 L608.3,317.5"/>
<path d="M433.0,380.2 L460.0,378.8 L491.2,376.2 L507.5,373.8 L520.0,372.5"/>
<path d="M460.0,378.8 L460.5,430.0 L462.5,452.5"/>
<path d="M491.2,376.2 L497.0,394.0 L502.5,412.5 L504.5,420.0 L506.5,430.0 L505.5,437.0 L507.3,440.3"/>
<path d="M471.2,440.0 L490.0,438.3 L505.5,437.0"/>
<path d="M471.2,440.0 L472.5,450.0"/>
<path d="M507.3,440.3 L526.0,439.5 L546.4,438.7 L546.8,433.8 L553.8,433.8"/>
<path d="M520.0,372.5 L521.0,376.2 L526.0,382.0 L532.5,387.5 L539.0,394.0 L545.0,400.0 L549.5,407.0 L553.8,413.8"/>
<path d="M520.0,372.5 L522.5,372.5 L531.8,368.2 L548.2,366.4 L551.8,370.0 L560.0,369.5 L568.2,369.1 L576.0,374.0 L584.5,379.3"/>
<path d="M507.3,372.5 L511.8,364.5 L517.0,361.0 L522.7,357.3 L527.0,354.5 L530.9,351.8 L535.5,346.4 L537.0,343.7"/>
<path d="M545.0,258.8 L570.0,254.5 L597.5,250.0 L600.5,252.5 L603.8,255.0"/>
<path d="M603.8,255.0 L603.8,260.0 L602.5,267.5 L604.5,272.0 L607.5,276.2 L604.5,281.5 L602.7,284.8 L604.0,287.5 L606.4,289.5"/>
<path d="M603.8,256.2 L609.5,260.0 L615.0,263.8"/>
<path d="M607.5,198.8 L610.0,210.0 L612.5,220.0 L614.5,227.0 L616.2,233.8 L617.3,242.8 L617.2,253.2 L616.5,256.5"/>
<path d="M627.5,195.0 L625.5,205.0 L623.8,215.0 L624.5,223.0 L626.2,230.0"/>
<path d="M616.2,233.8 L626.2,231.0 L634.0,229.5 L642.5,227.5"/>
<path d="M632.5,190.0 L636.0,200.0 L640.0,211.0 L643.8,222.5"/>
<path d="M617.8,242.8 L627.5,241.3 L637.8,239.8"/>
<path d="M637.8,239.8 L639.0,247.7"/>
<path d="M637.8,239.8 L642.0,239.6 L643.5,243.0 L644.0,245.0"/>
</g>
<g fill="none" stroke="#000" stroke-width="1.6" stroke-linejoin="round">
<path d="M412.5,250.0 L414.0,256.0 L417.5,262.5 L422.0,267.5 L427.5,273.8 L423.0,279.0 L417.5,282.5 L417.5,292.5 L413.8,297.5 L415.3,305.3 L420.0,312.0 L424.5,317.5 L429.1,322.1 L429.5,326.0 L429.8,329.8 L434.0,334.0 L438.2,337.4 L440.5,342.0 L442.0,346.6 L443.6,348.9"/>
<path d="M443.6,348.9 L442.5,353.0 L441.3,355.7 L438.5,361.0 L436.7,366.5 L435.0,373.0 L432.9,379.0 L430.0,385.0 L427.0,390.5 L425.0,395.0 L423.0,400.0 L422.5,405.0 L422.5,412.0 L424.0,419.0 L425.0,425.0 L421.5,431.5 L418.8,437.5 L418.8,442.5"/>
</g>
<g fill="none" stroke="#000" stroke-width="2.2" stroke-linejoin="round" stroke-linecap="round">
<path d="M567.5,400.0 L560.0,407.5 L553.8,413.8 L555.0,418.0 L555.0,422.5 L553.5,428.0 L552.5,432.5"/>
<path d="M676.0,185.0 L671.0,188.0 L665.0,192.5 L661.0,194.0 L657.5,197.5 L652.0,203.0 L647.5,210.0 L645.0,216.0"/>
<path d="M377.5,465.0 L375.0,468.5 L372.5,471.2 L367.5,475.0 L362.5,478.8 L356.0,482.5 L350.0,486.2 L346.0,490.5 L342.5,495.0 L340.5,500.0 L340.0,505.0 L341.5,513.0 L343.8,520.0"/>
<path d="M447.5,456.0 L445.0,460.0 L449.0,463.0 L452.5,465.0 L452.0,468.0 L450.0,470.0 L445.0,467.0 L440.0,465.0 L437.5,468.5 L435.0,471.2"/>
<path d="M551.8,498.4 L550.6,493.6 L548.0,490.5 L545.7,487.5 L542.1,481.5"/>
<path d="M583.8,379.5 L580.0,385.0 L576.2,390.0 L572.0,395.5 L567.5,400.0"/>
<path d="M450.0,452.5 L456.0,452.0 L462.5,451.2 L465.0,450.0 L467.5,447.5 L470.0,447.5 L472.5,450.0 L477.5,447.5 L483.5,446.5 L490.0,446.2"/>
<path d="M415.0,462.5 L410.0,464.5 L405.0,465.0 L397.5,464.5 L390.0,463.8 L385.0,465.0 L381.0,463.5 L377.5,465.0"/>
</g>
<path d="M83.7,128.6 L87.4,129.2 L89.3,131.6 L89.3,138.3 L88.0,139.6 L88.0,146.3 L86.8,147.5 L86.8,155.5 L83.7,156.7 L76.4,156.7 L76.4,150.6 L79.5,146.3 L83.7,144.5 L83.7,138.3 L81.3,138.3 L81.3,131.6 L83.7,131.6Z" fill="#000"/>
<circle cx="81.3" cy="151.8" r="1.2" fill="#828282"/>
<path d="M41,291 L44.5,290.5 L46,295 L45.5,301 L43.5,301 L43.8,296 L41.5,294Z" fill="#000"/>
<path d="M52.5,359 L64,360 L65,361.5 L54,361Z M59.5,372.5 L61,372.5 L61,374 L59.5,374Z M72.5,372 L75,373 L76,375.5 L73.5,375Z" fill="#000"/>
<path d="M430.6,181.8 L438.6,176.2 L439.8,177.6 L432,183.2Z" fill="#35508f"/>
<path d="M594.7,288.2 L596.5,287.8 L597.6,297.3 L598.7,304.2 L597.3,305.3 L595.8,299.1 L594.5,293.6Z" fill="#000"/>
<path d="M594.5,286.4 L591.8,293.6 L594.5,297.3 L590.9,301.8 L586.4,303.6 L589.6,306.0 L585.5,308.2 L591.8,310.9 L595.5,314.5 L592.7,317.3 L597.3,319.1 L593.6,322.7 L589.1,324.5 L596.4,325.5 L599.1,328.2 L601.8,331.8 L606.4,332.7" fill="none" stroke="#000" stroke-width="1.3" stroke-linejoin="miter"/>
<path d="M599.1,285.5 L600.9,291.8 L599.1,297.3 L601.8,303.6 L603.6,310.0 L605.5,317.3 L606.4,324.5 L608.2,330.0" fill="none" stroke="#000" stroke-width="1.2"/>
<path d="M598.2,339.5 L600.9,338.6 L606.4,339.5 L610.0,340.5 L610.5,342.3 L607.3,343.2 L604.5,345.0 L601.8,345.9 L599.5,344.5 L600.5,342.3 L598.2,341.4Z M599.5,350.0 L604.5,349.1 L606.4,351.4 L607.3,354.5 L605.5,357.3 L602.7,360.0 L599.5,359.5 L598.2,357.3 L600.5,355.0 L598.6,352.7 L596.4,351.4Z" fill="#000"/>
<path d="M607.3,341.4 L613.6,341.4 L615.9,344.1 L616.8,347.3 L616.4,350.0 L614.1,353.2 L610.0,355.9 L606.4,356.4 L605.9,355.0 L610.0,353.6 L613.2,350.5 L615.0,347.3 L614.5,344.1 L612.3,342.3 L607.3,342.5Z" fill="#fff"/>
<path d="M583.9,511 C583.5,518 576,524.5 563.9,527.5" fill="none" stroke="#000" stroke-width="1.6"/>
<path d="M567.5,461 L570.5,462.5 L572.8,466 L572.6,471 L570.8,468.5 L569.5,465.5Z" fill="#000"/>
<g fill="#363636" font-size="13.8">
<text x="429" y="528.3" font-size="11.9" textLength="73.6" lengthAdjust="spacing">NOVEMBER</text>
<text x="407.3" y="545.5" textLength="127.4" lengthAdjust="spacingAndGlyphs">MEAN PERCENTAGE</text>
<text x="399.5" y="562" textLength="146.5" lengthAdjust="spacingAndGlyphs">VISIBILITY &lt;=0.25 MILE</text>
</g>
<ellipse cx="83.2" cy="524.6" rx="34" ry="33.2" fill="#fff" stroke="#000" stroke-width="1.1"/>
<path d="M55.1,505.5 L60.5,510.5 L66.0,517.3 L71.5,524.5 L76.9,529.1 L82.4,531.4 L86.9,530.0 L92.4,526.4 L96.9,519.1 L100.5,510.9 L104.2,506.8 L110.1,503.6 L112.4,507.3 L113.7,511.4 L109.6,515.9 L104.2,521.8 L98.7,527.3 L95.1,530.0 L96.9,531.4 L97.8,532.7 L93.3,533.6 L87.8,535.9 L82.4,538.6 L76.9,540.9 L72.4,540.5 L70.5,539.1 L74.2,536.8 L78.7,535.5 L77.8,534.5 L72.4,532.7 L66.9,530.0 L61.5,525.0 L56.0,520.5 L50.1,517.3 L51.5,511.8Z" fill="#000"/>
<path d="M68.9,514.9 V507 H72.9 V514.9 M76.4,507 H80.6 V514 H76.4 Z M84.1,514.9 V507 H87.9 V514.9 M84.1,511.4 H87.9 M91.4,514.9 V507 H95.2 V514.9 M91.4,511.4 H95.2" fill="none" stroke="#000" stroke-width="1.7" stroke-linejoin="round"/>
<path d="M660.3,595.8 L639.3,631.6" stroke="#777" stroke-width="0.6" fill="none"/>
<path d="M660.3,595.8 L685.3,632.2" stroke="#000" stroke-width="1.3" fill="none"/>
<path d="M641,632 L660.9,624.4" stroke="#000" stroke-width="2.2" fill="none"/>
<path d="M660.9,624.2 L685.3,632.2" stroke="#000" stroke-width="1" fill="none"/>
<text transform="translate(663.1,651.5) scale(0.835,1)" font-size="29" text-anchor="middle" fill="#000">N</text>
<rect x="710.3" y="80.3" width="40" height="19" fill="#fff" stroke="#4b0f5a" stroke-width="2"/>
<g font-size="13" fill="#000">
<text x="760.4" y="94.4">STATES</text>
<text x="711.5" y="118.2" textLength="236.5" lengthAdjust="spacing">11 VISIBILITY &lt;= 0.25 MILE (PERCENT)</text>
<rect x="709.3" y="123.8" width="42" height="20.0" fill="#000000"/>
<text x="760.4" y="141">- NOVEMBER -</text>
<rect x="709.3" y="143.8" width="42" height="20.2" fill="#1e96ff"/>
<text x="760.4" y="160.9">A &lt; 1</text>
<rect x="709.3" y="164" width="42" height="20.2" fill="#a0d2ff"/>
<text x="760.4" y="181.3">B 1</text>
<rect x="709.3" y="184.2" width="42" height="20.3" fill="#fffa28"/>
<text x="760.4" y="201.5">C 2</text>
<rect x="709.3" y="204.5" width="42" height="20.1" fill="#fff8c8"/>
<text x="760.4" y="221.6">D 3</text>
<rect x="709.3" y="224.6" width="42" height="20.4" fill="#ffffff"/>
<text x="760.4" y="241.7">E 4</text>
<rect x="709.3" y="245" width="42" height="20.0" fill="#ccd0d8"/>
<text x="760.4" y="261.8">F 5</text>
<rect x="709.3" y="265" width="42" height="20.2" fill="#909090"/>
<text x="760.4" y="282.2">G 6 - 7</text>
<rect x="709.3" y="285.2" width="42" height="20.3" fill="#606060"/>
<text x="760.4" y="302.3">H 8 - 10</text>
<rect x="709.3" y="305.5" width="42" height="21.7" fill="#a83044"/>
<text x="760.4" y="322.5">I &gt; 10</text>
<text x="760.4" y="344.2">TITLE</text>
</g>
<path d="M714.6,348.4 L726.5,337 L734.5,343.7 L746.9,332.3" stroke="#666" stroke-width="0.7" fill="none"/>
</svg></body></html>
